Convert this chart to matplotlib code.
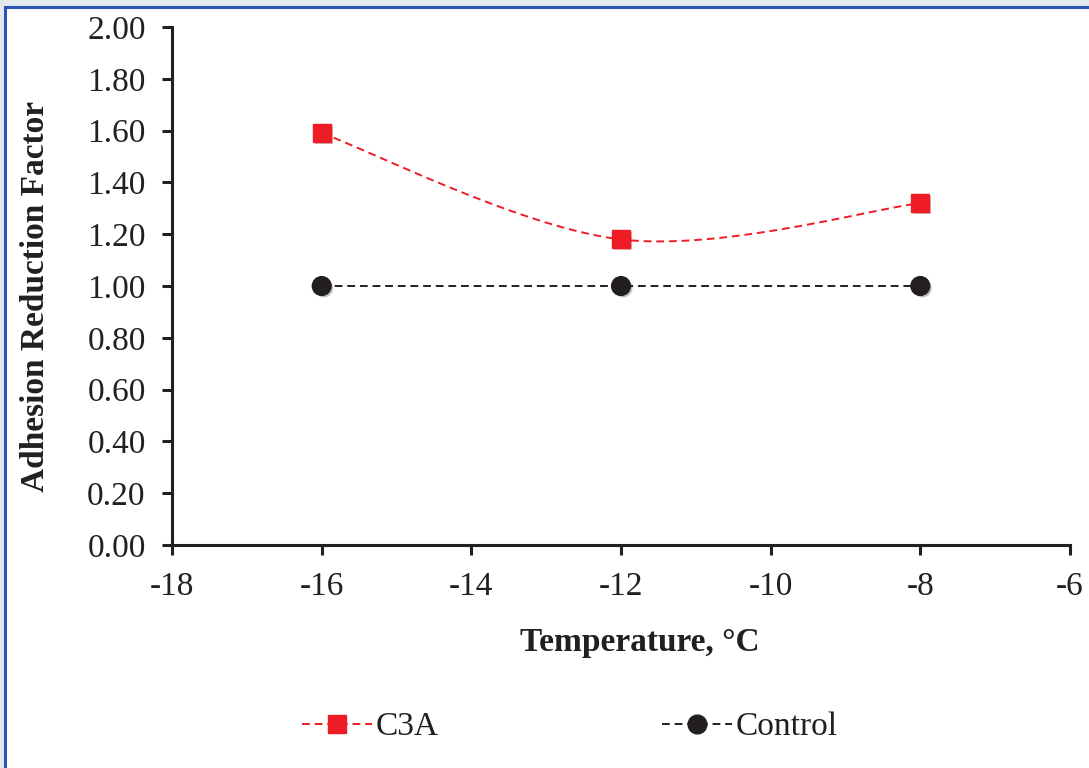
import numpy as np
import matplotlib
matplotlib.use("Agg")
import matplotlib.pyplot as plt
from matplotlib.patches import Rectangle
from matplotlib.lines import Line2D
import matplotlib.patheffects as pe

plt.rcParams['font.family'] = ['Liberation Serif', 'DejaVu Serif']

temps = [-16, -12, -8]
c3a = [1.59, 1.18, 1.32]
control = [1.00, 1.00, 1.00]

x_ticks = [-18, -16, -14, -12, -10, -8, -6]
y_ticks = [0.0, 0.2, 0.4, 0.6, 0.8, 1.0, 1.2, 1.4, 1.6, 1.8, 2.0]

RED = '#ee1c25'
DARK = '#231f20'
DASH = (0, (4, 2.5))


def smooth(xs, ys, n=60):
    # Catmull-Rom style curve through the points (spreadsheet "smoothed line")
    xs = np.asarray(xs, float)
    ys = np.asarray(ys, float)
    px = np.concatenate([[xs[0]], xs, [xs[-1]]])
    py = np.concatenate([[ys[0]], ys, [ys[-1]]])
    out_x, out_y = [], []
    for i in range(1, len(px) - 2):
        p0, p1, p2, p3 = [np.array([px[j], py[j]]) for j in (i - 1, i, i + 1, i + 2)]
        c1 = p1 + (p2 - p0) / 6.0
        c2 = p2 - (p3 - p1) / 6.0
        t = np.linspace(0, 1, n)[:, None]
        b = ((1 - t) ** 3) * p1 + 3 * ((1 - t) ** 2) * t * c1 + 3 * (1 - t) * t ** 2 * c2 + t ** 3 * p2
        out_x.extend(b[:, 0])
        out_y.extend(b[:, 1])
    return np.array(out_x), np.array(out_y)


fig = plt.figure(figsize=(10.89, 7.68), dpi=100)
fig.patch.set_facecolor('#e3e8ef')
fig.patches.append(Rectangle((5 / 1089, -0.1), 1.2, 1 - 7 / 768 + 0.1,
                             transform=fig.transFigure, facecolor='white',
                             edgecolor='#2b55b5', linewidth=2.2, zorder=-5))

ax = fig.add_axes([0.158, 0.2904, 0.8245, 0.6744])
ax.set_facecolor('none')

shadow = [pe.SimplePatchShadow(offset=(1.5, -1.5), alpha=0.25), pe.Normal()]

sx, sy = smooth(temps, c3a)
ax.plot(sx, sy, color=RED, linestyle=DASH, linewidth=1.4, zorder=2)
ax.plot(temps, c3a, linestyle='none', marker='s', markersize=13,
        color=RED, zorder=3, path_effects=shadow)

ax.plot(temps, control, color=DARK, linestyle=DASH, linewidth=1.4, zorder=2)
ax.plot(temps, control, linestyle='none', marker='o', markersize=13.5,
        color=DARK, zorder=3, path_effects=shadow)

ax.set_xlim(-18, -6)
ax.set_ylim(0, 2)
ax.set_xticks(x_ticks)
ax.set_xticklabels(['%d' % v for v in x_ticks])
ax.set_yticks(y_ticks)
ax.set_yticklabels(['%.2f' % v for v in y_ticks])

for s in ('top', 'right'):
    ax.spines[s].set_visible(False)
for s in ('left', 'bottom'):
    ax.spines[s].set_linewidth(2.2)
    ax.spines[s].set_color(DARK)
ax.tick_params(axis='both', direction='out', length=7, width=2.2, color=DARK,
               labelsize=24, labelcolor=DARK)
ax.tick_params(axis='x', pad=12)
ax.tick_params(axis='y', pad=12)

fig.text(640 / 1089, 1 - 643 / 768, 'Temperature, °C', ha='center', va='center',
         fontsize=24, fontweight='bold', color=DARK)
fig.text(36 / 1089, 1 - 296 / 768, 'Adhesion Reduction Factor', ha='center', va='center',
         rotation=90, fontsize=24, fontweight='bold', color=DARK)

handles = [
    Line2D([], [], color=RED, linestyle=DASH, linewidth=1.4,
           marker='s', markersize=13),
    Line2D([], [], color=DARK, linestyle=DASH, linewidth=1.4,
           marker='o', markersize=13.5),
]
fig.legend(handles, ['C3A', 'Control'], loc='center', bbox_to_anchor=(0.5234, 1 - 727 / 768),
           ncol=2, frameon=False, fontsize=24, handlelength=2.1, handletextpad=0.1,
           columnspacing=6.7, labelcolor=DARK)

fig.savefig('out.png', dpi=100)
